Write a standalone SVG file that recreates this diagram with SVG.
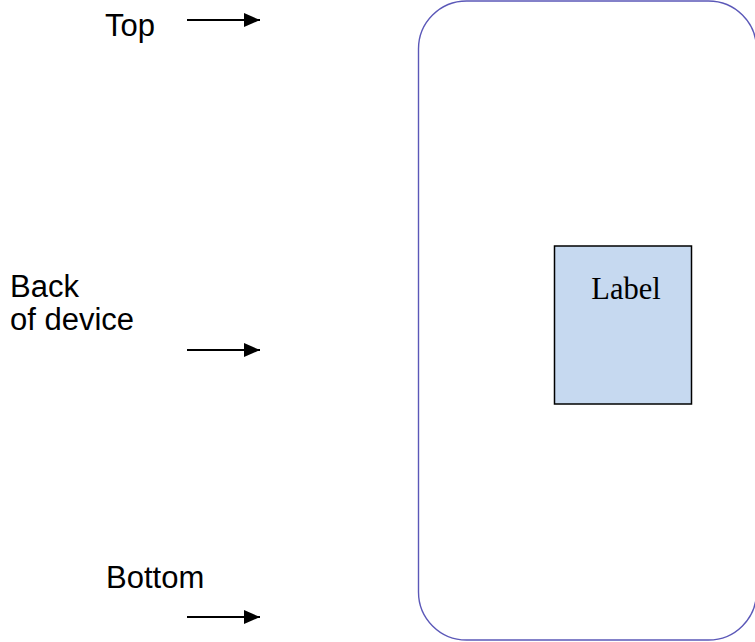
<svg xmlns="http://www.w3.org/2000/svg" width="755" height="642" viewBox="0 0 755 642">
<style>
.lbl{font-family:"Liberation Sans",Arial,sans-serif;font-size:31px;fill:#000}
.arrow{stroke:#000;stroke-width:2;fill:none}
</style>
<defs>
<marker id="head" viewBox="0 0 16 14" refX="16" refY="7" markerWidth="16" markerHeight="14" markerUnits="userSpaceOnUse" orient="auto">
<path d="M0,0 L16,7 L0,14 Z" fill="#000"/>
</marker>
</defs>
<rect width="755" height="642" fill="#fff"/>
<g id="device">
<rect x="418.5" y="1" width="338" height="639" rx="48" ry="48" fill="none" stroke="#5b58b8" stroke-width="1.4"/>
</g>
<g id="label-box">
<rect x="554.5" y="246" width="137" height="158" fill="#c6d9f0" stroke="#000" stroke-width="1.5"/>
<text x="626" y="298.5" text-anchor="middle" font-family="'Liberation Serif','Times New Roman',serif" font-size="30.5" fill="#000">Label</text>
</g>
<g id="text-top"><text class="lbl" x="105" y="36">Top</text></g>
<g id="text-back"><text class="lbl" x="10" y="297">Back</text><text class="lbl" x="10" y="330">of device</text></g>
<g id="text-bottom"><text class="lbl" x="106" y="588">Bottom</text></g>
<g id="connectors">
<line class="arrow" x1="187" y1="20" x2="260" y2="20" marker-end="url(#head)"/>
<line class="arrow" x1="187" y1="350" x2="260" y2="350" marker-end="url(#head)"/>
<line class="arrow" x1="187" y1="617" x2="260" y2="617" marker-end="url(#head)"/>
</g>
</svg>
